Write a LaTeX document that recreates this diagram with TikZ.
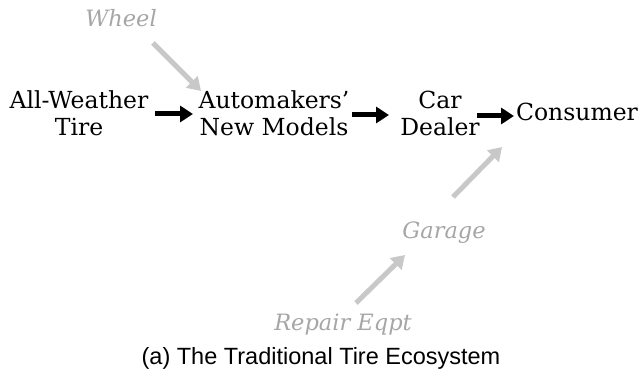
\documentclass[tikz,border=0pt]{standalone}
\usepackage{fontspec}
\setmainfont{DejaVu Serif}
\newfontfamily\captionfont{Liberation Sans}
\usetikzlibrary{arrows.meta}
\definecolor{flowgray}{HTML}{C8C8C8}
\definecolor{labelgray}{HTML}{A6A6A6}
\tikzset{
  stage/.style={align=center, font=\fontsize{23.5}{27}\selectfont, text=black, inner sep=1pt},
  extra/.style={font=\fontsize{22.5}{26}\selectfont\itshape, text=labelgray, inner sep=1pt},
  flow/.style={line width=5pt, -{Triangle[length=13pt,width=16pt]}},
  feed/.style={line width=5pt, draw=flowgray, -{Triangle[length=13pt,width=16pt]}},
}
\begin{document}
\begin{tikzpicture}[x=1pt,y=-1pt]
\useasboundingbox (0,0) rectangle (641,382);
% main chain
\node[stage] (tire) at (79,113) {All-Weather\\Tire};
\node[stage] (auto) at (274,113) {Automakers'\\New Models};
\node[stage] (dealer) at (440,113) {Car\\Dealer};
\node[stage] (cons) at (577,112) {Consumer};
% side inputs
\node[extra] (wheel) at (121,18) {Wheel};
\node[extra] (garage) at (444,233) {Garage};
\node[extra] (repair) at (343,325) {Repair Eqpt};
% caption
\node[font=\captionfont\fontsize{23.5}{28}\selectfont] (cap) at (321,358) {(a) The Traditional Tire Ecosystem};
% connectors
\coordinate (a1s) at (155,114); \coordinate (a1e) at (193,114);
\coordinate (a2s) at (352,115); \coordinate (a2e) at (389,115);
\coordinate (a3s) at (477,116); \coordinate (a3e) at (514,116);
\draw[flow] (a1s) -- (a1e);
\draw[flow] (a2s) -- (a2e);
\draw[flow] (a3s) -- (a3e);
\coordinate (w1) at (153,43); \coordinate (w2) at (201,91);
\coordinate (g1) at (453,197); \coordinate (g2) at (502,147);
\coordinate (r1) at (356,303); \coordinate (r2) at (405,255);
\draw[feed] (w1) -- (w2);
\draw[feed] (g1) -- (g2);
\draw[feed] (r1) -- (r2);
\end{tikzpicture}
\end{document}
